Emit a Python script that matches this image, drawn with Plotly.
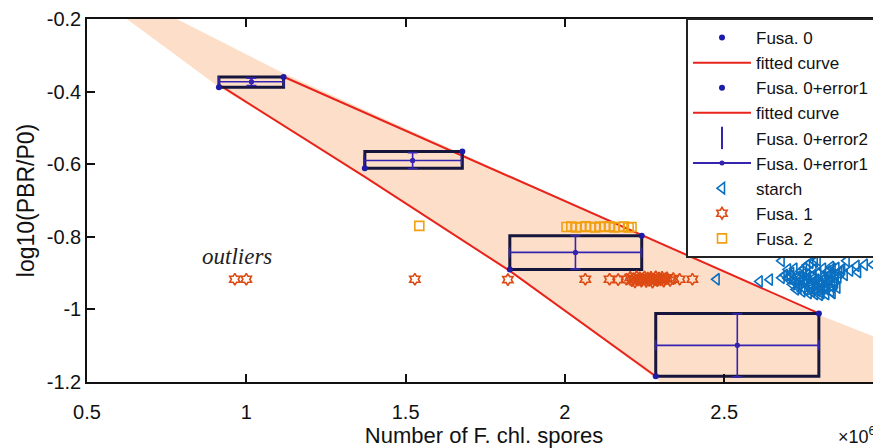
import plotly.graph_objects as go

# ---------------- data ----------------
# Fusa. 0 boxes (edges) and centres
box_x_lo = [0.914, 1.372, 1.827, 2.285]
box_x_hi = [1.117, 1.678, 2.241, 2.797]
box_y_lo = [-0.388, -0.611, -0.890, -1.184]
box_y_hi = [-0.360, -0.565, -0.797, -1.011]
ctr_x = [1.016, 1.522, 2.033, 2.541]
ctr_y = [-0.373, -0.590, -0.843, -1.099]
err1_x = [0.102, 0.153, 0.207, 0.256]   # horizontal error (half width)
err2_y = [0.010, 0.022, 0.046, 0.087]   # vertical error (half height)

# fitted curves
fit0_x = [0.914, 1.372, 1.827, 2.285]
fit0_y = [-0.381, -0.635, -0.894, -1.184]
fit1_x = [1.117, 2.797]
fit1_y = [-0.359, -1.011]

# confidence band outline
band_x = [0.625, 0.782, 1.120, 2.800, 2.975, 2.975, 2.300, 1.827, 1.372, 0.911, 0.625]
band_y = [-0.200, -0.200, -0.351, -1.016, -1.077, -1.200, -1.200, -0.894, -0.635, -0.385, -0.200]

# starch
starch_x = [2.476, 2.611, 2.643, 2.680, 2.680, 2.784, 2.793, 2.884, 2.915, 2.941, 2.967,
            2.852, 2.870, 2.895, 2.920, 2.835, 2.760, 2.770,
            2.690, 2.700, 2.710, 2.720, 2.730, 2.735, 2.740, 2.750, 2.755, 2.760, 2.770,
            2.775, 2.780, 2.790, 2.795, 2.800, 2.805, 2.810, 2.815, 2.820, 2.825, 2.830,
            2.835, 2.840, 2.845, 2.850, 2.855, 2.860, 2.725, 2.745, 2.765, 2.785, 2.800,
            2.820, 2.840, 2.700, 2.720, 2.750, 2.780, 2.810, 2.840,
            2.705, 2.715, 2.728, 2.738, 2.748, 2.758, 2.768, 2.778, 2.788, 2.798,
            2.808, 2.818, 2.828, 2.838, 2.848, 2.733, 2.753, 2.773, 2.793, 2.813,
            2.833, 2.763, 2.783, 2.803, 2.823, 2.743, 2.713, 2.858, 2.866, 2.878]
starch_y = [-0.917, -0.923, -0.918, -0.913, -0.866, -0.868, -0.864, -0.866, -0.880, -0.877, -0.877,
            -0.886, -0.890, -0.893, -0.897, -0.883, -0.878, -0.872,
            -0.905, -0.915, -0.900, -0.925, -0.910, -0.935, -0.895, -0.920, -0.945, -0.905, -0.930,
            -0.950, -0.915, -0.940, -0.900, -0.925, -0.955, -0.910, -0.935, -0.945, -0.895, -0.920,
            -0.950, -0.905, -0.930, -0.915, -0.940, -0.900, -0.945, -0.950, -0.955, -0.958, -0.960,
            -0.958, -0.955, -0.890, -0.888, -0.887, -0.890, -0.888, -0.888,
            -0.908, -0.918, -0.928, -0.913, -0.903, -0.923, -0.938, -0.906, -0.918, -0.933,
            -0.943, -0.922, -0.908, -0.938, -0.926, -0.940, -0.930, -0.943, -0.948, -0.915,
            -0.902, -0.912, -0.926, -0.940, -0.930, -0.918, -0.931, -0.912, -0.895, -0.905]

# Fusa. 1
fusa1_x = [0.964, 1.000, 1.529, 1.821, 2.064, 2.140, 2.167, 2.193,
           2.205, 2.210, 2.215, 2.220, 2.225, 2.230, 2.235, 2.240, 2.245, 2.250,
           2.255, 2.260, 2.265, 2.270, 2.275, 2.280, 2.285, 2.290, 2.295, 2.300,
           2.305, 2.310, 2.315, 2.320, 2.330, 2.340, 2.360, 2.400]
fusa1_y = [-0.917, -0.917, -0.917, -0.918, -0.917, -0.917, -0.918, -0.917,
           -0.912, -0.921, -0.915, -0.924, -0.910, -0.919, -0.913, -0.922, -0.916, -0.911,
           -0.923, -0.914, -0.920, -0.912, -0.925, -0.917, -0.910, -0.921, -0.914, -0.919,
           -0.912, -0.922, -0.916, -0.913, -0.920, -0.915, -0.917, -0.917]

# Fusa. 2
fusa2_x = [1.543, 2.005, 2.020, 2.035, 2.050, 2.065, 2.080, 2.095, 2.110,
           2.125, 2.140, 2.155, 2.170, 2.185, 2.200, 2.209]
fusa2_y = [-0.770, -0.773, -0.772, -0.774, -0.773, -0.771, -0.773, -0.774, -0.772,
           -0.773, -0.771, -0.774, -0.773, -0.772, -0.774, -0.773]

x_ticks = [0.5, 1, 1.5, 2, 2.5]
x_tick_text = ["0.5", "1", "1.5", "2", "2.5"]
y_ticks = [-1.2, -1, -0.8, -0.6, -0.4, -0.2]
y_tick_text = ["-1.2", "-1", "-0.8", "-0.6", "-0.4", "-0.2"]

# ---------------- styles ----------------
BLUE_DOT = "#1c1ca8"
ERR_COL = "#3524b0"
BOX_COL = "#16163c"
RED = "#e8231b"
BAND = "rgb(253,222,201)"
FONT = "Liberation Sans, Arial, sans-serif"

fig = go.Figure()

# band
fig.add_trace(go.Scatter(x=band_x, y=band_y, mode="lines", fill="toself",
                         fillcolor=BAND, line=dict(width=0), showlegend=False,
                         hoverinfo="skip"))

# fitted curves
fig.add_trace(go.Scatter(x=fit0_x, y=fit0_y, mode="lines", name="fitted curve",
                         line=dict(color=RED, width=2), legendrank=2))
fig.add_trace(go.Scatter(x=fit1_x, y=fit1_y, mode="lines", name="fitted curve",
                         line=dict(color=RED, width=2), legendrank=4))

# box outlines
bx, by = [], []
for i in range(len(box_x_lo)):
    bx += [box_x_lo[i], box_x_hi[i], box_x_hi[i], box_x_lo[i], box_x_lo[i], None]
    by += [box_y_lo[i], box_y_lo[i], box_y_hi[i], box_y_hi[i], box_y_lo[i], None]
fig.add_trace(go.Scatter(x=bx, y=by, mode="lines", line=dict(color=BOX_COL, width=3),
                         showlegend=False, hoverinfo="skip"))

# error bars (cross inside each box)
fig.add_trace(go.Scatter(x=ctr_x, y=ctr_y, mode="markers", name="Fusa. 0+error2",
                         marker=dict(color=ERR_COL, size=5),
                         error_y=dict(type="data", array=err2_y, color=ERR_COL,
                                      thickness=1.6, width=5),
                         showlegend=False))
fig.add_trace(go.Scatter(x=ctr_x, y=ctr_y, mode="markers", name="Fusa. 0+error1",
                         marker=dict(color=ERR_COL, size=5),
                         error_x=dict(type="data", array=err1_x, color=ERR_COL,
                                      thickness=1.6, width=5),
                         showlegend=False))
# legend samples for the error bar series
fig.add_trace(go.Scatter(x=[None], y=[None], mode="markers", name="Fusa. 0+error2",
                         marker=dict(symbol="line-ns-open", size=16, color=ERR_COL,
                                     line=dict(color=ERR_COL, width=2)),
                         legendrank=5))
fig.add_trace(go.Scatter(x=[None], y=[None], mode="lines+markers", name="Fusa. 0+error1",
                         line=dict(color=ERR_COL, width=2),
                         marker=dict(color=ERR_COL, size=5), legendrank=6))

# corner dots
fig.add_trace(go.Scatter(x=box_x_lo, y=box_y_lo, mode="markers", name="Fusa. 0",
                         marker=dict(color=BLUE_DOT, size=6), legendrank=1))
fig.add_trace(go.Scatter(x=box_x_hi, y=box_y_hi, mode="markers", name="Fusa. 0+error1",
                         marker=dict(color=BLUE_DOT, size=6), legendrank=3))

# scatter groups
fig.add_trace(go.Scatter(x=starch_x, y=starch_y, mode="markers", name="starch",
                         marker=dict(symbol="triangle-left-open", size=10,
                                     color="#0a6fc0", line=dict(width=1.6)),
                         legendrank=7))
fig.add_trace(go.Scatter(x=fusa1_x, y=fusa1_y, mode="markers", name="Fusa. 1",
                         marker=dict(symbol="hexagram-open", size=9,
                                     color="#dd4a12", line=dict(width=1.6)),
                         legendrank=8))
fig.add_trace(go.Scatter(x=fusa2_x, y=fusa2_y, mode="markers", name="Fusa. 2",
                         marker=dict(symbol="square-open", size=9,
                                     color="#f0a010", line=dict(width=1.6)),
                         legendrank=9))

fig.update_layout(
    width=873, height=440,
    margin=dict(l=79, r=0, t=11, b=66, autoexpand=False),
    plot_bgcolor="white", paper_bgcolor="white",
    font=dict(family=FONT, color="#111", size=20),
    showlegend=True,
    legend=dict(x=0.7544, y=1.0028, xanchor="left", yanchor="top",
                bgcolor="white", bordercolor="#222", borderwidth=2,
                font=dict(size=17, family=FONT, color="#111"),
                itemwidth=58, tracegroupgap=0, maxheight=1),
    xaxis=dict(range=[0.5, 2.992], tickvals=x_ticks, ticktext=x_tick_text,
               ticks="inside", ticklen=8, tickwidth=1.5, tickcolor="#111",
               showline=True, linecolor="#111", linewidth=1.5, mirror="ticks",
               showgrid=False, zeroline=False, ticklabelstandoff=11,
               title=dict(text="Number of F. chl. spores", font=dict(size=22), standoff=6)),
    yaxis=dict(range=[-1.2, -0.2], tickvals=y_ticks, ticktext=y_tick_text,
               ticks="inside", ticklen=8, tickwidth=1.5, tickcolor="#111",
               showline=True, linecolor="#111", linewidth=1.5, mirror="ticks",
               showgrid=False, zeroline=False, ticklabelstandoff=0,
               title=dict(text="log10(PBR/P0)", font=dict(size=23), standoff=6)),
    annotations=[
        dict(x=0.97, y=-0.855, xref="x", yref="y", text="<i>outliers</i>", showarrow=False,
             font=dict(family="Liberation Serif, Times New Roman, serif", size=23, color="#222")),
        dict(x=1.0038, y=-0.073, xref="paper", yref="paper", text="3", showarrow=False,
             xanchor="center", yanchor="middle", font=dict(size=20)),
        dict(x=0.996, y=-0.148, xref="paper", yref="paper", text="×10<sup>6</sup>",
             showarrow=False, xanchor="right", yanchor="middle", font=dict(size=18)),
    ],
)

fig.write_html("out.html")
